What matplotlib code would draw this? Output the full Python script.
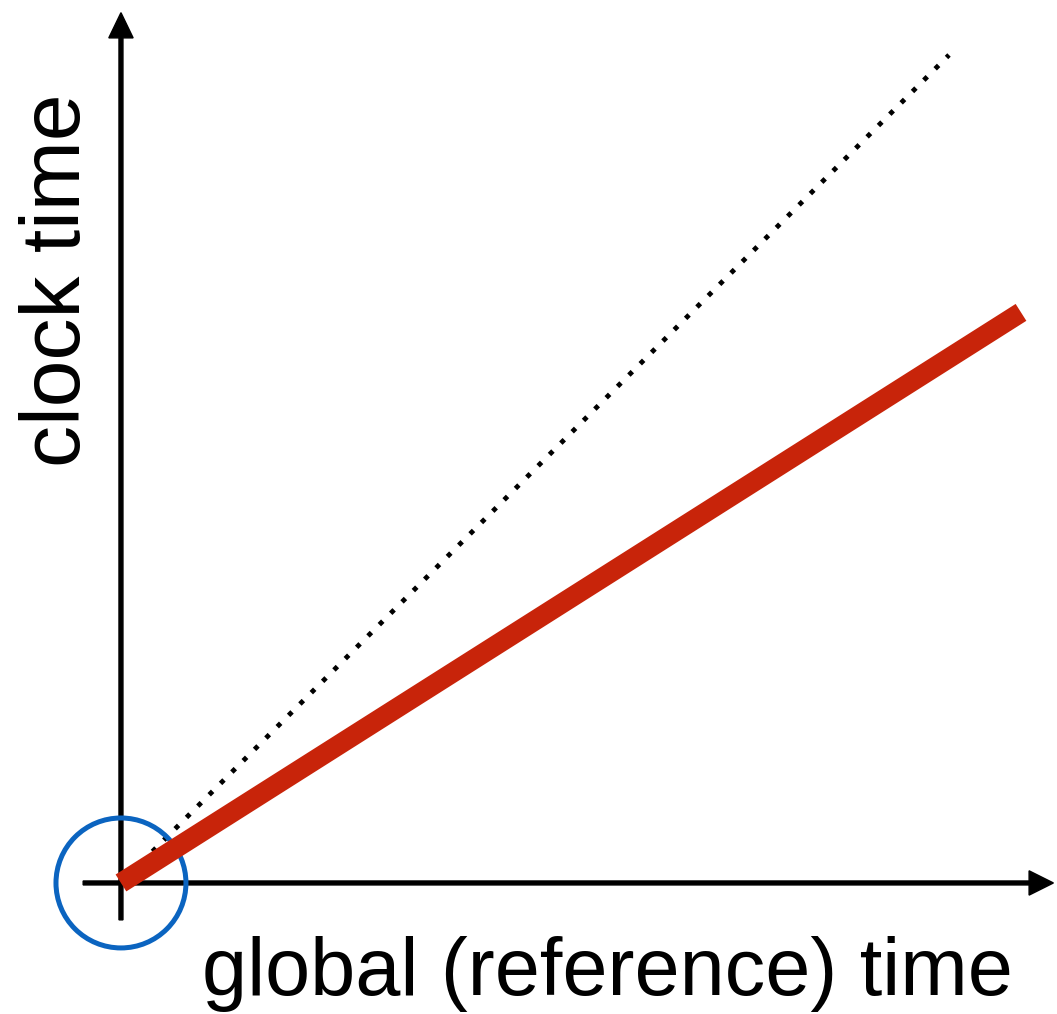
from matplotlib import pyplot as plt
from matplotlib.patches import Circle

# 数据：理想时钟 (虚线) 和 慢时钟 (红线)
ideal_t = [0.35, 9.2]
ideal_c = [0.35, 9.2]
slow_t = [0, 10]
slow_c = [0, 6.34]

x_label = 'global (reference) time'
y_label = 'clock time'

fig = plt.figure(figsize=(10.57, 10.14), dpi=100)
ax = fig.add_axes([0, 0, 1, 1])
ax.set_xlim(-1.344, 10.4)
ax.set_ylim(-1.456, 9.811)
ax.axis('off')

# 坐标轴箭头
ax.arrow(-0.42, 0, 10.78, 0, width=0.044, head_width=0.27, head_length=0.27,
         length_includes_head=True, color='black', zorder=2)
ax.arrow(0, -0.41, 0, 10.08, width=0.044, head_width=0.27, head_length=0.28,
         length_includes_head=True, color='black', zorder=2)

ax.plot(ideal_t, ideal_c, color='black', lw=3.5, dashes=(1, 2.3), zorder=3)

circle = Circle((0, 0), 0.722, fill=False, ec='#0b64c0', lw=3.6, zorder=4)
ax.add_patch(circle)

ax.plot(slow_t, slow_c, color='#c8240a', lw=14.4, solid_capstyle='butt', zorder=5)

ax.text(5.405, -1.244, x_label, ha='center', va='baseline',
        fontsize=58.3, family='Liberation Sans')
ax.text(-0.456, 6.7, y_label, ha='center', va='baseline', rotation=90,
        rotation_mode='anchor', fontsize=60.5, family='Liberation Sans')

plt.savefig('out.png', dpi=100)
